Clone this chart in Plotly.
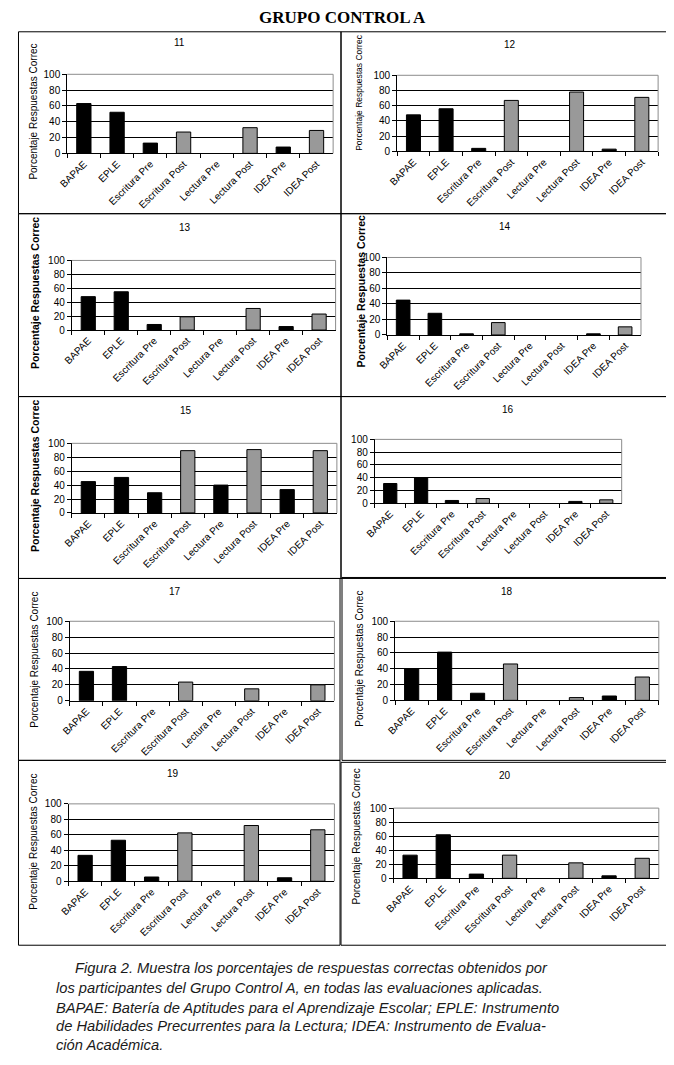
import plotly.graph_objects as go

# ventana 674x1065; el body del html deja 8 px de margen
ANCHO, ALTO = 674, 1065
MARGEN = 8
FIG_W, FIG_H = ANCHO - 2 * MARGEN, ALTO - 2 * MARGEN

categorias = ["BAPAE", "EPLE", "Escritura Pre", "Escritura Post",
              "Lectura Pre", "Lectura Post", "IDEA Pre", "IDEA Post"]
tipo_barra = ["pre", "pre", "pre", "post", "pre", "post", "pre", "post"]

paneles = ["11", "12", "13", "14", "15", "16", "17", "18", "19", "20"]

p11 = [63, 52, 13, 27, 0, 32.5, 8, 29]
p12 = [48, 56, 4, 67, 0, 78, 3, 71]
p13 = [48, 55, 8, 19, 0, 31, 5, 23]
p14 = [45, 28, 1.5, 16, 0, 0, 1.5, 10.5]
p15 = [45, 51, 29, 89.5, 40, 91, 33.5, 89.5]
p16 = [31, 40, 4.5, 7.5, 0, 0, 3, 5.5]
p17 = [37, 43, 0, 23.5, 0, 15, 0, 20]
p18 = [40, 61, 9, 46, 0, 3.5, 5.5, 29.5]
p19 = [33.5, 53, 5.5, 62.5, 0, 72, 4.5, 66.5]
p20 = [33, 62, 6, 33, 0, 22, 3.5, 28.5]
valores = [p11, p12, p13, p14, p15, p16, p17, p18, p19, p20]

titulo = "GRUPO CONTROL A"
titulo_y = "Porcentaje Respuestas Correc"
leyenda = [
    "Figura 2. Muestra los porcentajes de respuestas correctas obtenidos por",
    "los participantes del Grupo Control A, en todas las evaluaciones aplicadas.",
    "BAPAE: Batería de Aptitudes para el Aprendizaje Escolar; EPLE: Instrumento",
    "de Habilidades Precurrentes para la Lectura; IDEA: Instrumento de Evalua-",
    "ción Académica.",
]

# posiciones en pixeles de la ventana: (x izq, x der, y del 100, y del 0)
areas = [
    (58, 328, 69, 149), (393, 658, 70, 147),
    (62.6, 330.5, 257.3, 327.7), (383, 640.6, 254.3, 332.7),
    (62.6, 331.8, 442.3, 512.7), (370.3, 621, 438.3, 503),
    (60.7, 329.3, 622.3, 702.7), (391, 658.7, 622.3, 702.3),
    (59.3, 329.3, 807, 885.3), (389.3, 658.7, 811.3, 882.3),
]
pos_numero = [(172, 37), (508, 39), (178, 224), (503, 223), (178.4, 409),
              (506, 408), (167.7, 592), (505, 592), (165.7, 776), (502.7, 778.7)]
# (x, y centro, tamaño, negrita)
pos_titulo_y = [(24, 107, 10, False), (354, 87, 8.5, False), (24.6, 290, 10.5, True),
                (356, 289, 10.5, True), (24.6, 475, 10.5, True), None,
                (24, 661.5, 10, False), (354, 660.5, 10, False),
                (24, 845.5, 10, False), (352.7, 839.5, 10, False)]
cajas = [(3, 336, 26, 210), (336, 668, 26, 210), (5, 336, 210, 395), (336, 668, 210, 395),
         (7, 336, 395, 579), (336, 668, 395, 579), (6, 335, 579, 763), (337, 668, 578, 763),
         (6, 335, 763, 950), (336, 668, 765, 950)]
pos_leyenda = [(64, 973), (45, 993), (45, 1013), (45, 1032), (45, 1051)]

FUENTE = "Liberation Sans, Arial, sans-serif"
colores = {"pre": "#000000", "post": "#999999"}


def px(x):
    return (max(x, MARGEN + 0.5) - MARGEN) / FIG_W


def py(y):
    return 1 - (y - MARGEN) / FIG_H


fig = go.Figure()
anotaciones = []
formas = []

for i, (nombre, vals) in enumerate(zip(paneles, valores)):
    n = "" if i == 0 else str(i + 1)
    fig.add_trace(go.Bar(
        x=categorias, y=vals,
        marker=dict(color=[colores[t] for t in tipo_barra],
                    line=dict(color="black", width=[1 if v > 0 else 0 for v in vals])),
        xaxis="x" + n, yaxis="y" + n, showlegend=False,
    ))
    x0, x1, y100, y0 = areas[i]
    fig.layout["xaxis" + n] = dict(
        domain=[px(x0), px(x1)], anchor="y" + n, type="category",
        tickangle=-45, ticks="outside", tickson="boundaries", ticklen=4,
        tickcolor="black", showline=True, linecolor="black", linewidth=1,
        showgrid=False, tickfont=dict(family=FUENTE, size=10, color="black"),
        fixedrange=True,
    )
    fig.layout["yaxis" + n] = dict(
        domain=[py(y0), py(y100)], anchor="x" + n, range=[0, 100],
        tickvals=[0, 20, 40, 60, 80, 100], ticks="outside", ticklen=4,
        tickcolor="black", showline=True, linecolor="black", linewidth=1,
        showgrid=True, gridcolor="black", gridwidth=1, zeroline=False,
        tickfont=dict(family=FUENTE, size=10, color="black"), fixedrange=True,
    )
    # borde gris del area de trazado (arriba y derecha)
    formas.append(dict(type="path", xref="x" + n + " domain", yref="y" + n + " domain",
                       path="M 0,1 L 1,1 L 1,0", line=dict(color="#8c8c8c", width=1)))
    cx, cy = pos_numero[i]
    anotaciones.append(dict(text=nombre, x=px(cx), y=py(cy), xref="paper", yref="paper",
                            showarrow=False, xanchor="center", yanchor="middle",
                            font=dict(family=FUENTE, size=10, color="black")))
    if pos_titulo_y[i]:
        tx, ty, tam, negrita = pos_titulo_y[i]
        texto = "<b>" + titulo_y + "</b>" if negrita else titulo_y
        anotaciones.append(dict(text=texto, x=px(tx), y=py(ty), xref="paper", yref="paper",
                                showarrow=False, textangle=-90, xanchor="center",
                                yanchor="middle",
                                font=dict(family=FUENTE, size=tam, color="black")))

for (a, b, c, d) in cajas:
    formas.append(dict(type="rect", xref="paper", yref="paper",
                       x0=px(a), x1=px(b), y0=py(d), y1=py(c),
                       line=dict(color="black", width=1)))

anotaciones.append(dict(text="<b>" + titulo + "</b>", x=px(337), y=py(12),
                        xref="paper", yref="paper", showarrow=False,
                        xanchor="center", yanchor="middle",
                        font=dict(family="Liberation Serif, Times New Roman, serif",
                                  size=17, color="black")))

for linea, (lx, ly) in zip(leyenda, pos_leyenda):
    anotaciones.append(dict(text="<i>" + linea + "</i>", x=px(lx), y=py(ly),
                            xref="paper", yref="paper", showarrow=False,
                            xanchor="left", yanchor="middle",
                            font=dict(family=FUENTE, size=14.7, color="#1a1a1a")))

fig.update_layout(
    width=FIG_W, height=FIG_H,
    margin=dict(l=0, r=0, t=0, b=0),
    paper_bgcolor="white", plot_bgcolor="white",
    bargap=0.57,
    annotations=anotaciones,
    shapes=formas,
)

fig.write_html("out.html", config={"displayModeBar": False})
